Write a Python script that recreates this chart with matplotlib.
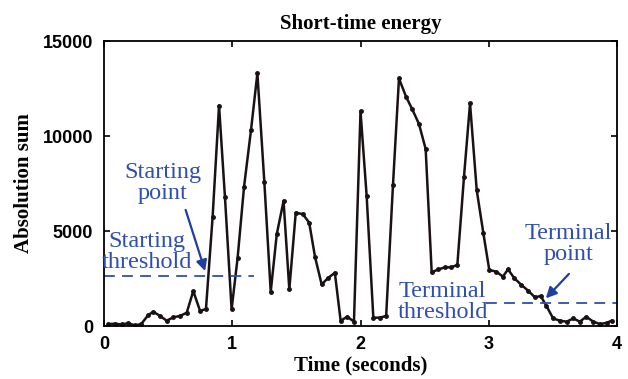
#Short-time energy of a speech signal with start/end detection thresholds
import matplotlib.pyplot as plt
import numpy as np

#Frame times (s) and absolute-sum energy
t = [0.034, 0.086, 0.138, 0.19, 0.24, 0.29, 0.345, 0.385, 0.437, 0.489,
     0.54, 0.593, 0.645, 0.696, 0.749, 0.795, 0.847, 0.897, 0.943, 0.995,
     1.042, 1.092, 1.146, 1.196, 1.25, 1.30, 1.347, 1.40, 1.445, 1.495,
     1.55, 1.60, 1.645, 1.697, 1.749, 1.80, 1.845, 1.897, 1.949, 2.0,
     2.048, 2.10, 2.15, 2.20, 2.253, 2.30, 2.355, 2.404, 2.456, 2.508,
     2.555, 2.607, 2.66, 2.705, 2.755, 2.807, 2.854, 2.906, 2.958, 3.004,
     3.06, 3.11, 3.15, 3.20, 3.255, 3.307, 3.36, 3.405, 3.45, 3.502,
     3.555, 3.607, 3.66, 3.71, 3.76, 3.815, 3.867, 3.92, 3.958]
energy = [100, 120, 80, 150, 30, 100, 580, 750, 530, 280,
          460, 530, 700, 1840, 800, 890, 5750, 11600, 6800, 880,
          3600, 7330, 10300, 13300, 7600, 1800, 4830, 6580, 1930, 5960,
          5890, 5440, 3650, 2190, 2540, 2800, 280, 490, 230, 11300,
          6840, 440, 440, 530, 7400, 13030, 12070, 11400, 10630, 9320,
          2830, 2980, 3090, 3090, 3210, 7860, 11720, 7160, 4880, 2950,
          2860, 2600, 2980, 2510, 2160, 1860, 1510, 1580, 1050, 400,
          280, 230, 400, 230, 490, 230, 100, 170, 280]

#Thresholds
start_thr = 2630
start_thr_span = [0, 1.17]
end_thr = 1230
end_thr_span = [2.98, 4.0]

blue = '#2f4fb0'
serif = ['Liberation Serif', 'DejaVu Serif']
sans = ['Liberation Sans', 'DejaVu Sans']

fig = plt.figure(figsize=(6.28, 3.79), dpi=100)
ax = fig.add_axes([0.1656, 0.1398, 0.8169, 0.752])

ax.plot(t, energy, color='#1a1212', linewidth=1.8, marker='o', markersize=2.5)
ax.plot(start_thr_span, [start_thr, start_thr], color=blue, linestyle=(0, (6, 4)), linewidth=1.3)
ax.plot(end_thr_span, [end_thr, end_thr], color=blue, linestyle=(0, (6, 4)), linewidth=1.3)

#Annotations
txt = dict(color=blue, fontsize=17.5, family=serif, ha='center', va='center', linespacing=1.0)
ax.text(0.46, 7550, 'Starting\npoint', **txt)
ax.text(0.335, 3920, 'Starting\nthreshold', **txt)
ax.annotate('', xy=(0.795, 2750), xytext=(0.63, 6250),
            arrowprops=dict(arrowstyle='-|>', color='#1f3f9f', lw=1.6, mutation_scale=16))
ax.text(3.62, 4320, 'Terminal\npoint', **txt)
ax.text(2.64, 1240, 'Terminal\nthreshold', **txt)
ax.annotate('', xy=(3.43, 1350), xytext=(3.64, 2850),
            arrowprops=dict(arrowstyle='-|>', color='#1f3f9f', lw=1.6, mutation_scale=16))

ax.set_xlim(0, 4)
ax.set_ylim(0, 15000)
ax.set_xticks([0, 1, 2, 3, 4])
ax.set_yticks([0, 5000, 10000, 15000])
ax.tick_params(direction='in', top=True, right=True, length=4, width=1.2)
ax.tick_params(axis='x', pad=7)
ax.tick_params(axis='y', pad=8)
for lab in ax.get_xticklabels() + ax.get_yticklabels():
    lab.set_family(sans)
    lab.set_fontweight('bold')
    lab.set_fontsize(13)
for s in ax.spines.values():
    s.set_linewidth(1.3)
ax.set_title('Short-time energy', fontsize=15, fontweight='bold', family=serif, pad=9)
ax.set_xlabel('Time (seconds)', fontsize=15, fontweight='bold', family=serif, labelpad=2)
ax.set_ylabel('Absolution sum', fontsize=15, fontweight='bold', family=serif, labelpad=6)

plt.savefig('out.png', dpi=100)
